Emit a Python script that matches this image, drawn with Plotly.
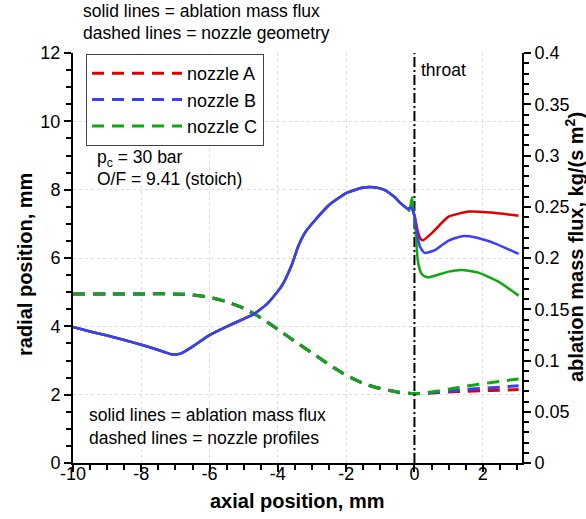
import plotly.graph_objects as go

# ---------------- data ----------------
# ablation mass flux, shared convergent section (all nozzles coincide), kg/(s m^2)
x_flux_conv = [-10, -9.5, -9, -8.5, -8, -7.5, -7.3, -7.1, -6.95, -6.8, -6.5, -6.0, -5.5, -5.0, -4.7,
               -4.3, -3.9, -3.6, -3.4, -3.2, -2.9, -2.5, -2.0, -1.5, -1.2, -0.9, -0.6, -0.4, -0.2]
flux_conv = [0.1327, 0.1283, 0.1243, 0.1200, 0.1153, 0.1103, 0.1080, 0.1060, 0.1060, 0.1075, 0.1135,
             0.1247, 0.1330, 0.1407, 0.1453, 0.1557, 0.1720, 0.1927, 0.2117, 0.2250, 0.2373,
             0.2517, 0.2633, 0.2687, 0.2690, 0.2667, 0.2600, 0.2533, 0.2480]

# throat / divergent section per nozzle
x_flux_A = [-0.15, -0.09, 0.01, 0.09, 0.17, 0.25, 0.5, 1.0, 1.6, 2.25, 3.05]
flux_A = [0.2487, 0.2493, 0.2400, 0.2273, 0.2190, 0.2173, 0.2240, 0.2403, 0.2453, 0.2443, 0.2413]
x_flux_B = [-0.15, -0.09, 0.01, 0.06, 0.16, 0.3, 0.6, 1.0, 1.4, 1.8, 2.35, 3.05]
flux_B = [0.2487, 0.2493, 0.2400, 0.2273, 0.2110, 0.2050, 0.2077, 0.2170, 0.2213, 0.2200, 0.2143, 0.2040]
x_flux_C = [-0.15, -0.07, -0.02, 0.02, 0.05, 0.08, 0.12, 0.2, 0.3, 0.45, 1.0, 1.38, 1.87, 2.46, 3.05]
flux_C = [0.2460, 0.2593, 0.2433, 0.2350, 0.2200, 0.2033, 0.1933, 0.1850, 0.1820, 0.1813,
          0.1867, 0.1883, 0.1857, 0.1770, 0.1633]

# nozzle geometry (radial position, mm), shared convergent section
x_geom_conv = [-10, -9, -8, -7.2, -6.75, -6.0, -5.5, -5.0, -4.5, -4.0, -3.5, -3.0, -2.5,
               -2.0, -1.5, -1.0, -0.5, 0.0]
r_geom_conv = [4.95, 4.95, 4.95, 4.95, 4.94, 4.85, 4.72, 4.53, 4.25, 3.91, 3.56, 3.22, 2.88,
               2.57, 2.33, 2.18, 2.08, 2.03]
x_geom_div = [0.5, 1.0, 1.5, 2.0, 2.5, 3.05]
r_div_A = [2.05, 2.08, 2.10, 2.12, 2.13, 2.15]
r_div_B = [2.06, 2.10, 2.15, 2.19, 2.22, 2.26]
r_div_C = [2.08, 2.16, 2.25, 2.32, 2.39, 2.46]

nozzle_names = ["nozzle A", "nozzle B", "nozzle C"]
nozzle_colors = ["#e00000", "#3c3cff", "#10a810"]

throat_x = 0.0

x_tickvals = [-10, -8, -6, -4, -2, 0, 2]
x_ticktext = ["-10", "-8", "-6", "-4", "-2", "0", "2"]
y_tickvals = [0, 2, 4, 6, 8, 10, 12]
y2_tickvals = [0, 0.05, 0.1, 0.15, 0.2, 0.25, 0.3, 0.35, 0.4]
y2_ticktext = ["0", "0.05", "0.1", "0.15", "0.2", "0.25", "0.3", "0.35", "0.4"]

# ---------------- figure ----------------
FONT = "Liberation Sans, Arial, Helvetica, sans-serif"
fig = go.Figure()

geom_div = [r_div_A, r_div_B, r_div_C]
for name, col, rdiv in zip(nozzle_names, nozzle_colors, geom_div):
    fig.add_trace(go.Scatter(
        x=x_geom_conv + x_geom_div, y=r_geom_conv + rdiv,
        mode="lines", name=name,
        line=dict(color=col, width=3, dash="12px,8px", shape="spline", smoothing=0.6),
        xaxis="x", yaxis="y"))

# throat reference line
fig.add_trace(go.Scatter(
    x=[throat_x, throat_x], y=[0, 12], mode="lines", showlegend=False,
    line=dict(color="black", width=2, dash="10px,3px,2px,3px"), xaxis="x", yaxis="y"))

flux_div = {"A": (x_flux_A, flux_A), "B": (x_flux_B, flux_B), "C": (x_flux_C, flux_C)}
# draw order: red, green, blue (blue on top)
for key, col in [("A", nozzle_colors[0]), ("C", nozzle_colors[2]), ("B", nozzle_colors[1])]:
    xd, fd = flux_div[key]
    fig.add_trace(go.Scatter(
        x=x_flux_conv + xd, y=flux_conv + fd, mode="lines", showlegend=False,
        line=dict(color=col, width=2.5, shape="spline", smoothing=0.5),
        xaxis="x", yaxis="y2"))

axis_common = dict(
    showline=True, linecolor="black", linewidth=2,
    ticks="outside", ticklen=7, tickwidth=1.5, tickcolor="black",
    tickfont=dict(family=FONT, size=18, color="black"),
    zeroline=False, automargin=False,
)
grid = dict(showgrid=True, gridcolor="#dcdcdc", griddash="dot", gridwidth=1)

fig.update_layout(
    width=586, height=519,
    margin=dict(l=73, r=64, t=53, b=56),
    paper_bgcolor="white", plot_bgcolor="white",
    font=dict(family=FONT, size=18, color="black"),
    xaxis=dict(range=[-10, 3.15], tickvals=x_tickvals, ticktext=x_ticktext,
               ticklabelstandoff=-14,
               minor=dict(dtick=0.5, tick0=0, ticks="outside", ticklen=5, tickcolor="black",
                          tickwidth=1.5, showgrid=False),
               **axis_common, **grid),
    yaxis=dict(range=[0, 12], tickvals=y_tickvals,
               minor=dict(dtick=0.5, tick0=0, ticks="outside", ticklen=5, tickcolor="black",
                          tickwidth=1.5, showgrid=False),
               **axis_common, **grid),
    yaxis2=dict(range=[0, 0.4], tickvals=y2_tickvals, ticktext=y2_ticktext,
                overlaying="y", side="right", anchor="x", showgrid=False,
                minor=dict(dtick=0.01, tick0=0, ticks="outside", ticklen=5, tickcolor="black",
                           tickwidth=1.5, showgrid=False),
                **axis_common),
    legend=dict(x=0.029, y=0.9976, xanchor="left", yanchor="top",
                bgcolor="white", bordercolor="#444444", borderwidth=1,
                font=dict(family=FONT, size=18, color="black"),
                itemwidth=90, tracegroupgap=0),
    showlegend=True,
)

ann_font = dict(family=FONT, size=17.5, color="black")
title_font = dict(family=FONT, size=20, color="black")

def paper_x(px):
    return (px - 73) / 449

def paper_y(py):
    return (463 - py) / 410

annotations = [
    dict(text="solid lines = ablation mass flux", x=paper_x(81), y=paper_y(11)),
    dict(text="dashed lines = nozzle geometry", x=paper_x(81), y=paper_y(33)),
    dict(text="p<sub>c</sub> = 30 bar", x=paper_x(95), y=paper_y(158)),
    dict(text="O/F = 9.41 (stoich)", x=paper_x(95), y=paper_y(179)),
    dict(text="solid lines = ablation mass flux", x=paper_x(87), y=paper_y(415)),
    dict(text="dashed lines = nozzle profiles", x=paper_x(87), y=paper_y(438)),
]
for a in annotations:
    fig.add_annotation(xref="paper", yref="paper", xanchor="left", yanchor="middle",
                       showarrow=False, font=ann_font, **a)

fig.add_annotation(text="throat", xref="x", yref="paper", x=throat_x, y=paper_y(70),
                   xanchor="left", yanchor="middle", xshift=5, showarrow=False, font=ann_font)

fig.add_annotation(text="<b>axial position, mm</b>", xref="paper", yref="paper",
                   x=paper_x(297), y=paper_y(501), xanchor="center", yanchor="middle",
                   showarrow=False, font=title_font)
fig.add_annotation(text="<b>radial position, mm</b>", xref="paper", yref="paper",
                   x=paper_x(25), y=paper_y(265), xanchor="center", yanchor="middle",
                   textangle=-90, showarrow=False, font=title_font)
fig.add_annotation(text="<b>ablation mass flux, kg/(s m<sup>2</sup>)</b>", xref="paper", yref="paper",
                   x=paper_x(574), y=paper_y(247), xanchor="center", yanchor="middle",
                   textangle=-90, showarrow=False, font=title_font)

fig.write_html("out.html")
